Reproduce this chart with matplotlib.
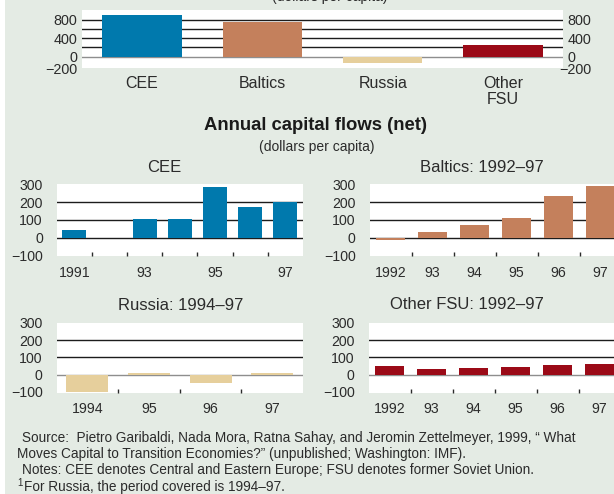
"""Fluxos de capital por região (per capita): acumulado e anual."""
import numpy as np
import matplotlib

matplotlib.use("Agg")
import matplotlib.pyplot as plt  # noqa: E402
from matplotlib.patches import Rectangle  # noqa: E402

# --- dados -------------------------------------------------------------
regioes = ["CEE", "Baltics", "Russia", "Other\nFSU"]
acumulado = [900, 750, -130, 250]

anos_cee = ["1991", "", "93", "", "95", "", "97"]
fluxo_cee = [45, np.nan, 105, 105, 290, 175, 205]

anos_baltics = ["1992", "93", "94", "95", "96", "97"]
fluxo_baltics = [-12, 30, 70, 110, 235, 295]

anos_russia = ["1994", "95", "96", "97"]
fluxo_russia = [-100, 10, -50, 10]

anos_fsu = ["1992", "93", "94", "95", "96", "97"]
fluxo_fsu = [50, 30, 40, 45, 55, 60]

ticks_topo = [0, 400, 800]
tick_topo_baixo = -200
ticks_painel = [-100, 0, 100, 200, 300]

# --- estilo ------------------------------------------------------------
W, H = 614, 494
FONTE = ["Liberation Sans Narrow", "Liberation Sans", "DejaVu Sans"]
plt.rcParams["font.family"] = FONTE
FUNDO = "#e4ebe4"
TEXTO = "#2b2b2b"
GRADE = "#1c1c1c"
CINZA = "#8e8e8e"
COR = {"CEE": "#0079ad", "Baltics": "#c4805c", "Russia": "#e6cf9c", "FSU": "#9b0a17"}


def rot(v):
    return f"\u2212{abs(v)}" if v < 0 else str(v)


def eixo(fig, esq, topo, dir_, base):
    # coordenadas em pixels (origem no canto superior esquerdo)
    return fig.add_axes([esq / W, 1 - base / H, (dir_ - esq) / W, (base - topo) / H])


def texto(fig, x, y, s, **kw):
    kw.setdefault("color", TEXTO)
    return fig.text(x / W, 1 - y / H, s, **kw)


def limpa(ax):
    ax.set_facecolor("white")
    for s in ax.spines.values():
        s.set_visible(False)


def painel(ax, valores, rotulos, cor, zero_cor):
    limpa(ax)
    x = np.arange(len(valores))
    for y in (100, 200):
        ax.axhline(y, color=GRADE, lw=1.0, zorder=1)
    ax.axhline(0, color=zero_cor, lw=1.0, zorder=1)
    ax.bar(x, valores, width=0.68, color=cor, zorder=2)
    ax.set_xlim(-0.5, len(valores) - 0.5)
    ax.set_ylim(-105, 302)
    ax.set_yticks(ticks_painel, labels=[rot(v) for v in ticks_painel])
    ax.tick_params(axis="y", length=0, pad=10, labelsize=10.2, labelcolor=TEXTO)
    ax.set_xticks(x, labels=rotulos)
    ax.set_xticks(x[:-1] + 0.5, minor=True)
    ax.tick_params(axis="x", which="major", length=0, pad=7, labelsize=10.2,
                   labelcolor=TEXTO)
    ax.tick_params(axis="x", which="minor", direction="in", length=3, width=1,
                   color=TEXTO)


fig = plt.figure(figsize=(W / 100, H / 100), dpi=100, facecolor=FUNDO)
fig.patches.append(Rectangle((0, 0), 5 / W, 1, transform=fig.transFigure,
                             facecolor="white", edgecolor="none"))

# --- gráfico acumulado (topo) ------------------------------------------
ax = eixo(fig, 81.7, 10, 563.3, 67.7)
limpa(ax)
for y in (200, 400, 600, 800):
    ax.axhline(y, color=GRADE, lw=1.0, zorder=1)
ax.axhline(0, color=CINZA, lw=1.0, zorder=1)
ax.bar(range(len(regioes)), acumulado, width=0.66, zorder=2,
       color=[COR["CEE"], COR["Baltics"], COR["Russia"], COR["FSU"]])
ax.set_xlim(-0.5, len(regioes) - 0.5)
ax.set_ylim(-235, 1005)
ax.set_yticks(ticks_topo, labels=[rot(v) for v in ticks_topo])
ax.tick_params(axis="y", length=0, pad=3, labelsize=10.4, labelcolor=TEXTO,
               labelright=True)
# o -200 fica um pouco abaixo da marca, como no original
ax.annotate(rot(tick_topo_baixo), xy=(0, tick_topo_baixo),
            xycoords=("axes fraction", "data"), xytext=(-3, -3),
            textcoords="offset points", ha="right", va="center",
            fontsize=10.4, color=TEXTO, annotation_clip=False)
ax.annotate(rot(tick_topo_baixo), xy=(1, tick_topo_baixo),
            xycoords=("axes fraction", "data"), xytext=(-3, -3),
            textcoords="offset points", ha="left", va="center",
            fontsize=10.4, color=TEXTO, annotation_clip=False)
ax.set_xticks(range(len(regioes)), labels=regioes)
ax.tick_params(axis="x", length=0, pad=6, labelsize=11.5, labelcolor=TEXTO)
for t in ax.get_xticklabels():
    t.set_linespacing(1.05)

texto(fig, 329.5, 1.5, "(dollars per capita)", ha="center", va="baseline",
      fontsize=10)

# --- títulos -----------------------------------------------------------
texto(fig, 316, 125, "Annual capital flows (net)", ha="center", va="center",
      fontsize=13.3, fontweight="bold", color="#1a1a1a")
texto(fig, 316.5, 146.5, "(dollars per capita)", ha="center", va="center",
      fontsize=10)

# --- painéis anuais ----------------------------------------------------
painel(eixo(fig, 56.7, 184.5, 303, 256), fluxo_cee, anos_cee, COR["CEE"], GRADE)
painel(eixo(fig, 369.5, 184.5, 621.5, 256), fluxo_baltics, anos_baltics,
       COR["Baltics"], GRADE)
painel(eixo(fig, 56.5, 322.5, 303, 392.7), fluxo_russia, anos_russia,
       COR["Russia"], CINZA)
painel(eixo(fig, 368.5, 322.5, 620.5, 392.7), fluxo_fsu, anos_fsu, COR["FSU"], CINZA)

texto(fig, 164, 167, "CEE", ha="center", va="center", fontsize=12)
texto(fig, 482, 167, "Baltics: 1992\u201397", ha="center", va="center", fontsize=12)
texto(fig, 181, 305.5, "Russia: 1994\u201397", ha="center", va="center", fontsize=12)
texto(fig, 467, 304.5, "Other FSU: 1992\u201397", ha="center", va="center", fontsize=12)

# --- rodapé ------------------------------------------------------------
texto(fig, 22, 438, "Source:  Pietro Garibaldi, Nada Mora, Ratna Sahay, and Jeromin "
      "Zettelmeyer, 1999, \u201c What", va="center", fontsize=9.8)
texto(fig, 17, 454, "Moves Capital to Transition Economies?\u201d (unpublished; "
      "Washington: IMF).", va="center", fontsize=9.8)
texto(fig, 22, 470, "Notes: CEE denotes Central and Eastern Europe; FSU denotes "
      "former Soviet Union.", va="center", fontsize=9.8)
texto(fig, 17, 483, "1", va="center", fontsize=7)
texto(fig, 24, 487, "For Russia, the period covered is 1994\u201397.", va="center",
      fontsize=9.8)

fig.savefig("out.png", dpi=100, facecolor=FUNDO)
plt.close(fig)
